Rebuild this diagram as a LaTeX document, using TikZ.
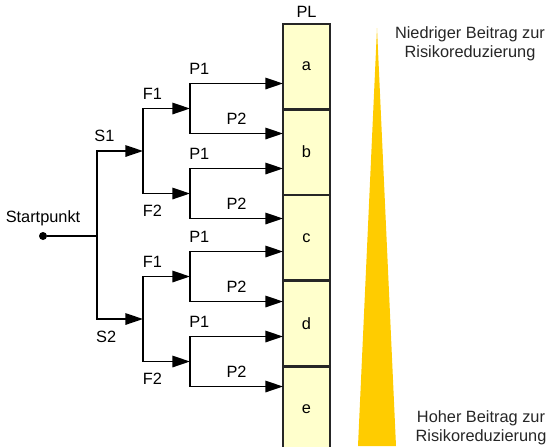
\documentclass[tikz,border=0pt]{standalone}
\usepackage{fontspec}
\setmainfont{Liberation Sans}
\usetikzlibrary{arrows.meta,positioning}
\definecolor{plyellow}{RGB}{255,255,204}
\definecolor{wedgegold}{RGB}{255,204,0}

\begin{document}
\begin{tikzpicture}[x=0.2mm,y=-0.2mm,
    font=\fontsize{9.3}{10.8}\selectfont,
    node distance=0pt,
    plbox/.style={rectangle,draw=black!85,line width=0.8pt,fill=plyellow,
                  minimum width=0.94cm,minimum height=1.688cm,inner sep=0pt},
    arrow/.style={-{Triangle[length=10pt,width=6.5pt]},line width=0.95pt},
    up/.style={above=1.5pt},
    down/.style={below=3pt}
]
    \useasboundingbox (0,0) rectangle (548,446);
    % PL column
    \node[plbox] (a) at (306.5,66.2) {a};
    \node[plbox,below=of a] (b) {b};
    \node[plbox,below=of b] (c) {c};
    \node[plbox,below=of c] (d) {d};
    \node[plbox,below=of d] (e) {e};
    \node[above=of a] (pl) {PL};
    % wedge and its texts
    \fill[wedgegold] (377,28) -- (396,446) -- (358,446) -- cycle;
    \node[align=center,text=black!85] (low) at (470,44) {Niedriger Beitrag zur\\Risikoreduzierung};
    \node[align=center,text=black!85] (high) at (481,428) {Hoher Beitrag zur\\Risikoreduzierung};
    % tree
    \node[circle,fill,inner sep=0pt,minimum size=1.6mm,label={above:Startpunkt}] (start) at (43,236) {};
    \coordinate (sj) at (97,236);
    \coordinate (fa) at (143,151);
    \coordinate (fb) at (143,319);
    \coordinate (pa) at (190,108.5);
    \coordinate (pb) at (190,193.5);
    \coordinate (pc) at (190,276.5);
    \coordinate (pd) at (190,361.5);
    \coordinate (ta1) at (283,83.5);
    \coordinate (ta2) at (283,133.5);
    \coordinate (tb1) at (283,168.5);
    \coordinate (tb2) at (283,218.5);
    \coordinate (tc1) at (283,251.5);
    \coordinate (tc2) at (283,301.5);
    \coordinate (td1) at (283,336.5);
    \coordinate (td2) at (283,386.5);
    \draw[line width=0.95pt] (start) -- (sj);
    \draw[arrow] (sj) |- node[up,pos=0.58] {S1} (fa);
    \draw[arrow] (sj) |- node[down,pos=0.6] {S2} (fb);
    \draw[arrow] (fa) |- node[up,pos=0.6] {F1} (pa);
    \draw[arrow] (fa) |- node[down,pos=0.6] {F2} (pb);
    \draw[arrow] (fb) |- node[up,pos=0.6] {F1} (pc);
    \draw[arrow] (fb) |- node[down,pos=0.6] {F2} (pd);
    \draw[arrow] (pa) |- node[up,pos=0.55] {P1} (ta1);
    \draw[arrow] (pa) |- node[up,pos=0.75] {P2} (ta2);
    \draw[arrow] (pb) |- node[up,pos=0.55] {P1} (tb1);
    \draw[arrow] (pb) |- node[up,pos=0.75] {P2} (tb2);
    \draw[arrow] (pc) |- node[up,pos=0.55] {P1} (tc1);
    \draw[arrow] (pc) |- node[up,pos=0.75] {P2} (tc2);
    \draw[arrow] (pd) |- node[up,pos=0.55] {P1} (td1);
    \draw[arrow] (pd) |- node[up,pos=0.75] {P2} (td2);
\end{tikzpicture}
\end{document}
